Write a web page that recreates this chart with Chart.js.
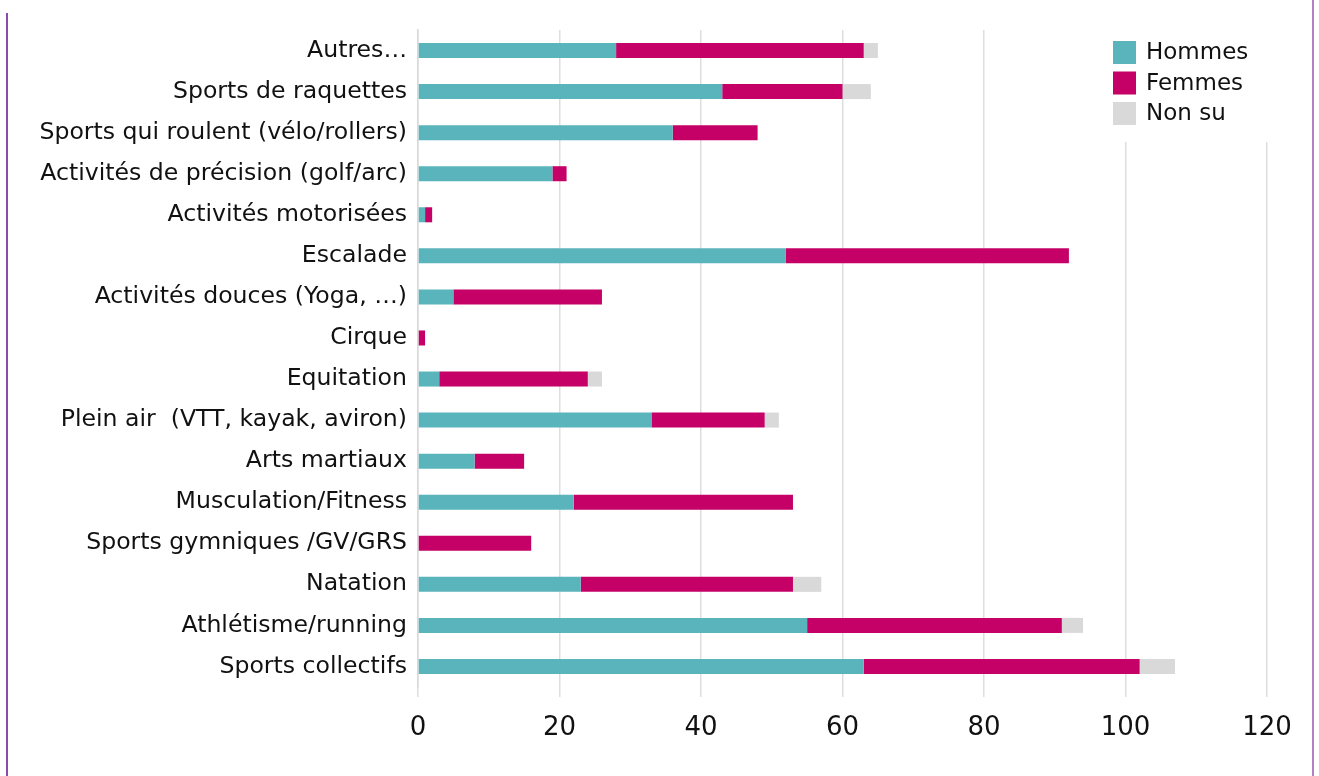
<!DOCTYPE html>
<html lang="fr">
<head>
<meta charset="UTF-8">
<title>Pratiques sportives</title>
<script src="https://cdn.jsdelivr.net/npm/chart.js"></script>
<style>
  html, body { margin: 0; padding: 0; background: #fff; }
  .frame { position: relative; width: 1319px; height: 776px; overflow: hidden; }
  .edgeLeft { position: absolute; left: 6px; top: 13px; bottom: 0; width: 2px; background: #8e4aa8; }
  .edgeRight { position: absolute; left: 1312px; top: 0; bottom: 0; width: 2px; background: #b27ec6; }
  canvas { position: absolute; left: 0; top: 0; }
</style>
</head>
<body>
<div class="frame">
  <div class="edgeLeft"></div>
  <div class="edgeRight"></div>
  <canvas id="sportsChart" width="1319" height="776"></canvas>
</div>
<script>
  const categories = [
    'Autres…', 'Sports de raquettes', 'Sports qui roulent (vélo/rollers)',
    'Activités de précision (golf/arc)', 'Activités motorisées', 'Escalade',
    'Activités douces (Yoga, …)', 'Cirque', 'Equitation', 'Plein air  (VTT, kayak, aviron)',
    'Arts martiaux', 'Musculation/Fitness', 'Sports gymniques /GV/GRS', 'Natation',
    'Athlétisme/running', 'Sports collectifs'
  ];
  const hommes = [28, 43, 36, 19, 1, 52, 5, 0, 3, 33, 8, 22, 0, 23, 55, 63];
  const femmes = [35, 17, 12, 2, 1, 40, 21, 1, 21, 16, 7, 31, 16, 30, 36, 39];
  const nonSu  = [2, 4, 0, 0, 0, 0, 0, 0, 2, 2, 0, 0, 0, 4, 3, 5];
  const xTicks = [0, 20, 40, 60, 80, 100, 120];

  const FONT = 'DejaVu Sans';

  // legend box in the top right corner of the plot, over the gridlines
  const cornerLegend = {
    id: 'cornerLegend',
    afterDraw(chart) {
      const ctx = chart.ctx;
      ctx.save();
      ctx.fillStyle = '#fff';
      ctx.fillRect(1096, 30, 196, 112);
      ctx.font = '23px "' + FONT + '"';
      ctx.textBaseline = 'middle';
      chart.data.datasets.forEach((ds, i) => {
        const cy = 52.5 + i * 30.5;
        ctx.fillStyle = ds.backgroundColor;
        ctx.fillRect(1113, cy - 11.5, 23, 23);
        ctx.fillStyle = '#111';
        ctx.fillText(ds.label, 1146, cy + 1);
      });
      ctx.restore();
    }
  };

  const common = { categoryPercentage: 1, barPercentage: 0.366, borderWidth: 0 };

  new Chart(document.getElementById('sportsChart'), {
    type: 'bar',
    data: {
      labels: categories,
      datasets: [
        { label: 'Hommes', data: hommes, backgroundColor: '#5ab4bc', ...common },
        { label: 'Femmes', data: femmes, backgroundColor: '#c50067', ...common },
        { label: 'Non su', data: nonSu, backgroundColor: '#d9d9d9', ...common }
      ]
    },
    options: {
      indexAxis: 'y',
      responsive: false,
      animation: false,
      layout: { padding: { top: 30, right: 52, bottom: 0, left: 0 } },
      plugins: { legend: { display: false }, tooltip: { enabled: false } },
      scales: {
        x: {
          stacked: true,
          min: 0,
          max: 120,
          afterBuildTicks: (scale) => { scale.ticks = xTicks.map(v => ({ value: v })); },
          afterFit: (scale) => { scale.height = 89; },
          grid: { color: '#dedede', lineWidth: 1.5, tickLength: 10, drawTicks: true },
          border: { display: false },
          ticks: { color: '#111', padding: 16, font: { family: FONT, size: 26 } }
        },
        y: {
          stacked: true,
          afterFit: (scale) => { scale.width = 418; },
          grid: { display: false, drawTicks: false },
          border: { display: true, color: '#d9d9d9', width: 1.5 },
          ticks: { color: '#111', padding: 11, font: { family: FONT, size: 23.6 } }
        }
      }
    },
    plugins: [cornerLegend]
  });
</script>
</body>
</html>
